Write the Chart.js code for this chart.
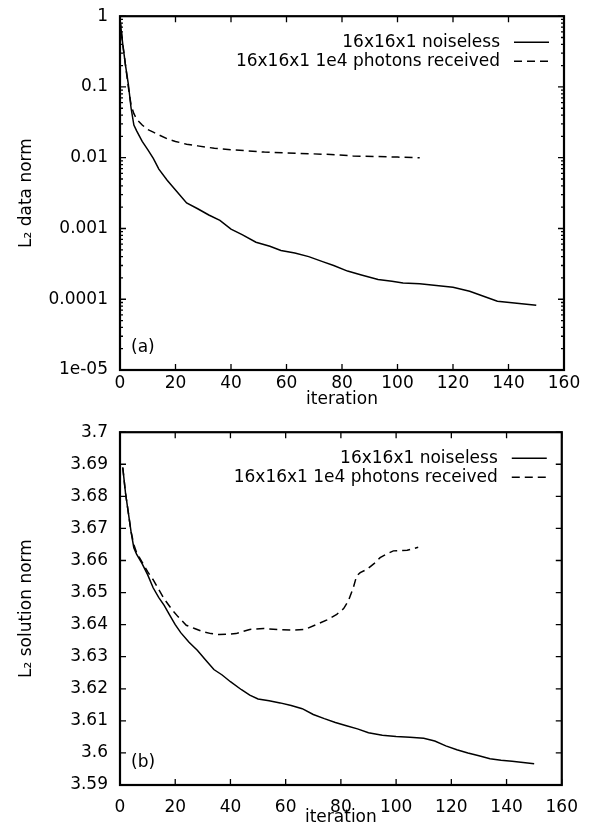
<!DOCTYPE html>
<html>
  <head>
    <meta charset="UTF-8">
    <title>L2 norms vs iteration</title>
    <script src="https://cdn.jsdelivr.net/npm/chart.js"></script>
    <style>
      body { margin: 0; background: #fff; overflow: hidden; }
      .panel { position: absolute; left: 0; }
    </style>
  </head>

  <body>
    <div class="panel" style="top:-6px"><canvas id="dataNorm" width="590" height="421"></canvas></div>
    <div class="panel" style="top:410px"><canvas id="solNorm" width="590" height="421"></canvas></div>

    <script>
      // legend names
      const seriesNames = ['16x16x1 noiseless', '16x16x1 1e4 photons received'];

      // (a) L2 data norm
      const aCleanIter = [0, 1, 2, 3, 4, 5, 6, 8, 10, 12, 14, 17, 20, 24, 28, 32, 36, 40, 44, 49, 54, 58, 63, 68, 73, 77, 82, 87, 93, 98, 102, 108, 114, 120, 126, 131, 136, 143, 150];
      const aCleanVal = [0.9, 0.4, 0.2, 0.11, 0.05, 0.029, 0.024, 0.017, 0.013, 0.0098, 0.0069, 0.0048, 0.0035, 0.0023, 0.0019, 0.00155, 0.0013, 0.00098, 0.00082, 0.00064, 0.00056, 0.00049, 0.00045, 0.0004, 0.00034, 0.0003, 0.00025, 0.00022, 0.00019, 0.00018, 0.00017, 0.000165, 0.000157, 0.000148, 0.00013, 0.00011, 0.000094, 0.000088, 0.000082];
      const aNoisyIter = [0, 1, 2, 3, 4, 5, 6, 8, 10, 12, 14, 17, 20, 24, 28, 34, 40, 46, 52, 60, 68, 76, 84, 92, 100, 108];
      const aNoisyVal = [0.9, 0.4, 0.2, 0.1, 0.055, 0.042, 0.035, 0.029, 0.025, 0.023, 0.021, 0.0185, 0.017, 0.0155, 0.0147, 0.0136, 0.013, 0.0125, 0.012, 0.0117, 0.0114, 0.0111, 0.0106, 0.0104, 0.0102, 0.01];
      const aYTicks = [1e-5, 1e-4, 1e-3, 1e-2, 1e-1, 1];
      const aYLabels = ['1e-05', '0.0001', '0.001', '0.01', '0.1', '1'];

      // (b) L2 solution norm
      const bCleanIter = [1, 2, 3, 4, 5, 6, 8, 10, 12, 14, 16, 18, 20, 22, 25, 28, 31, 34, 37, 40, 44, 47, 50, 54, 58, 62, 66, 70, 74, 78, 82, 86, 90, 95, 100, 105, 110, 114, 118, 122, 126, 130, 134, 138, 142, 146, 150];
      const bCleanVal = [3.689, 3.681, 3.675, 3.669, 3.664, 3.662, 3.659, 3.6556, 3.6515, 3.6485, 3.646, 3.643, 3.640, 3.6375, 3.6345, 3.632, 3.629, 3.626, 3.6243, 3.6222, 3.6197, 3.618, 3.6168, 3.6163, 3.6156, 3.6148, 3.6138, 3.612, 3.6107, 3.6095, 3.6085, 3.6075, 3.6063, 3.6055, 3.6051, 3.6049, 3.6046, 3.6037, 3.6022, 3.601, 3.600, 3.5991, 3.5982, 3.5977, 3.5974, 3.597, 3.5966];
      const bNoisyIter = [1, 2, 3, 4, 5, 6, 8, 10, 12, 14, 16, 19, 21, 24, 27, 30, 33, 36, 42, 47, 52, 57, 63, 67, 71, 75, 78.5, 81, 82.7, 84.5, 85.7, 87, 89.3, 92, 94.2, 96.5, 99, 104, 108];
      const bNoisyVal = [3.689, 3.681, 3.675, 3.669, 3.665, 3.6625, 3.6595, 3.6565, 3.654, 3.651, 3.648, 3.6445, 3.6425, 3.6398, 3.6388, 3.6378, 3.6372, 3.6369, 3.6372, 3.6385, 3.6388, 3.6385, 3.6383, 3.6385, 3.640, 3.6415, 3.6432, 3.645, 3.6474, 3.6515, 3.6552, 3.6562, 3.6572, 3.659, 3.6609, 3.662, 3.663, 3.6632, 3.6641];
      const bYTicks = [3.59, 3.6, 3.61, 3.62, 3.63, 3.64, 3.65, 3.66, 3.67, 3.68, 3.69, 3.7];
      const bYLabels = ['3.59', '3.6', '3.61', '3.62', '3.63', '3.64', '3.65', '3.66', '3.67', '3.68', '3.69', '3.7'];

      const xTicks = [0, 20, 40, 60, 80, 100, 120, 140, 160];

      const font = { family: 'DejaVu Sans', size: 17 };
      const toPoints = (xs, ys) => xs.map((x, i) => ({ x: x, y: ys[i] }));

      // box, inward ticks, legend and panel tag
      const framePlugin = {
        id: 'frame',
        afterDraw(chart, args, opts) {
          const ctx = chart.ctx;
          const a = chart.chartArea;
          const xs = chart.scales.x, ys = chart.scales.y;
          ctx.save();
          ctx.strokeStyle = '#000';
          ctx.lineWidth = 1.3;
          ctx.beginPath();
          xs.ticks.forEach(t => {
            const px = xs.getPixelForValue(t.value);
            ctx.moveTo(px, a.bottom); ctx.lineTo(px, a.bottom - 6);
            ctx.moveTo(px, a.top); ctx.lineTo(px, a.top + 6);
          });
          ys.ticks.forEach(t => {
            const py = ys.getPixelForValue(t.value);
            ctx.moveTo(a.left, py); ctx.lineTo(a.left + 6, py);
            ctx.moveTo(a.right, py); ctx.lineTo(a.right - 6, py);
          });
          if (opts.minor) {
            ys.ticks.forEach(t => {
              for (let k = 2; k <= 9; k++) {
                const v = t.value * k;
                if (v >= ys.max) continue;
                const py = ys.getPixelForValue(v);
                ctx.moveTo(a.left, py); ctx.lineTo(a.left + 3, py);
                ctx.moveTo(a.right, py); ctx.lineTo(a.right - 3, py);
              }
            });
          }
          ctx.stroke();

          ctx.lineWidth = 2.2;
          ctx.strokeRect(a.left, a.top, a.right - a.left, a.bottom - a.top);

          // legend
          ctx.font = '17px "DejaVu Sans"';
          ctx.fillStyle = '#000';
          ctx.textBaseline = 'middle';
          ctx.textAlign = 'right';
          chart.data.datasets.forEach((ds, i) => {
            const y = a.top + 26 + i * 19;
            ctx.fillText(ds.label, a.right - 64, y);
            ctx.lineWidth = ds.borderWidth;
            ctx.setLineDash(ds.borderDash || []);
            ctx.beginPath();
            ctx.moveTo(a.right - 50, y);
            ctx.lineTo(a.right - 15, y);
            ctx.stroke();
          });
          ctx.setLineDash([]);

          ctx.textAlign = 'left';
          ctx.fillText(opts.tag, a.left + 11, a.bottom - 22);
          ctx.restore();
        }
      };

      function makeChart(id, cfg) {
        return new Chart(document.getElementById(id), {
          type: 'line',
          data: {
            datasets: [{
              label: seriesNames[0],
              data: cfg.clean,
              borderColor: '#000',
              borderWidth: 1.5,
              pointRadius: 0,
              tension: 0
            }, {
              label: seriesNames[1],
              data: cfg.noisy,
              borderColor: '#000',
              borderWidth: 1.5,
              borderDash: [8, 5],
              pointRadius: 0,
              tension: 0
            }]
          },
          options: {
            responsive: false,
            animation: false,
            layout: { padding: cfg.pad },
            plugins: {
              legend: { display: false },
              tooltip: { enabled: false },
              frame: { tag: cfg.tag, minor: cfg.log }
            },
            scales: {
              x: {
                type: 'linear',
                min: 0,
                max: 160,
                afterBuildTicks: s => { s.ticks = xTicks.map(v => ({ value: v })); },
                afterFit: s => { s.height = cfg.xHeight; },
                grid: { display: false, drawTicks: false, tickLength: 0 },
                border: { display: false },
                ticks: { font: font, color: '#000', padding: cfg.xPad, maxRotation: 0, autoSkip: false },
                title: { display: true, text: 'iteration', font: font, color: '#000', padding: { top: 0, bottom: cfg.xTitlePad } }
              },
              y: {
                type: cfg.log ? 'logarithmic' : 'linear',
                min: cfg.yTicks[0],
                max: cfg.yTicks[cfg.yTicks.length - 1],
                afterBuildTicks: s => { s.ticks = cfg.yTicks.map(v => ({ value: v })); },
                afterFit: s => { s.width = 120; },
                grid: { display: false, drawTicks: false, tickLength: 0 },
                border: { display: false },
                ticks: { font: font, color: '#000', padding: 12, autoSkip: false, callback: (v, i) => cfg.yLabels[i] },
                title: { display: true, text: cfg.yTitle, font: font, color: '#000', padding: { top: 16, bottom: 0 } }
              }
            }
          },
          plugins: [framePlugin]
        });
      }

      makeChart('dataNorm', {
        clean: toPoints(aCleanIter, aCleanVal),
        noisy: toPoints(aNoisyIter, aNoisyVal),
        log: true,
        yTicks: aYTicks,
        yLabels: aYLabels,
        yTitle: 'L₂ data norm',
        tag: '(a)',
        pad: { left: 0, right: 26, top: 9, bottom: 5 },
        xHeight: 40,
        xPad: 3,
        xTitlePad: 0
      });

      makeChart('solNorm', {
        clean: toPoints(bCleanIter, bCleanVal),
        noisy: toPoints(bNoisyIter, bNoisyVal),
        log: false,
        yTicks: bYTicks,
        yLabels: bYLabels,
        yTitle: 'L₂ solution norm',
        tag: '(b)',
        pad: { left: 0, right: 24, top: 12, bottom: 0 },
        xHeight: 46,
        xPad: 12,
        xTitlePad: 3
      });
    </script>
  </body>
</html>
